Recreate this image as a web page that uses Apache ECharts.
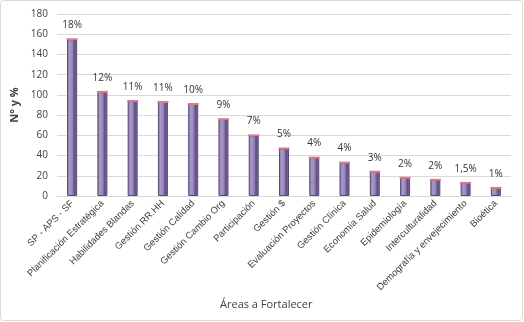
<!DOCTYPE html>
<html><head><meta charset="utf-8">
<script src="https://cdn.jsdelivr.net/npm/echarts@6/dist/echarts.min.js"></script>
<style>html,body{margin:0;padding:0;background:#fff}#c{width:524px;height:322px}</style>
</head><body><div id="c"></div>
<script>
const categories = ["SP - APS - SF","Planificación Estratégica","Habilidades Blandas","Gestión RR.HH","Gestión Calidad","Gestión Cambio Org","Participación","Gestión $","Evaluación Proyectos","Gestión Clínica","Economía Salud","Epidemiología","Interculturalidad","Demografía y envejecimiento","Bioética"];
const values = [155,103,94,93,91,76,60,47,38,33,24,18,16,13,8];
const percentLabels = ["18%","12%","11%","11%","10%","9%","7%","5%","4%","4%","3%","2%","2%","1,5%","1%"];
const yTicks = {min:0,max:180,interval:20};

const chart = echarts.init(document.getElementById('c'));
const font = "'Liberation Sans Narrow','Liberation Sans',sans-serif";
chart.setOption({
  animation:false,
  grid:{left:57,right:13,top:14,bottom:126},
  graphic:[
    {type:'rect',shape:{x:0.5,y:0.5,width:522,height:320,r:3},style:{fill:null,stroke:'#D9D9D9',lineWidth:1},z:-1},
    {type:'text',left:220,top:299,style:{text:'Áreas a Fortalecer',font:"11px 'Open Sans',sans-serif",fill:'#404040'}}
  ],
  xAxis:{type:'category',data:categories,
    axisLine:{lineStyle:{color:'#D9D9D9'}},axisTick:{show:false},
    axisLabel:{rotate:45,interval:0,fontSize:9.5,fontFamily:font,color:'#404040',margin:6}},
  yAxis:{type:'value',min:yTicks.min,max:yTicks.max,interval:yTicks.interval,
    name:'N° y %',nameLocation:'middle',nameGap:32,nameRotate:90,
    nameTextStyle:{fontSize:11,fontWeight:'bold',color:'#404040',fontFamily:"'Open Sans',sans-serif"},
    axisLine:{show:false},axisTick:{show:false},
    axisLabel:{fontSize:10,color:'#404040',fontFamily:"'Open Sans',sans-serif",margin:9},
    splitLine:{lineStyle:{color:'#D9D9D9',width:1}}},
  series:[{type:'bar',data:values,barWidth:10,
    itemStyle:{
      color:new echarts.graphic.LinearGradient(0,0,1,0,[
        {offset:0,color:'#7E6E9E'},{offset:0.25,color:'#A898CC'},{offset:0.5,color:'#9888BC'},{offset:0.75,color:'#5E4E7E'},{offset:1,color:'#8A7AAE'}]),
      borderColor:'#5A4A78',borderWidth:1},
    label:{show:true,position:'top',distance:9,fontSize:10,color:'#333333',fontFamily:"'Open Sans',sans-serif",
      formatter:p=>percentLabels[p.dataIndex]}
  },{
    type:'pictorialBar',data:values,symbol:'rect',symbolSize:[11,2],symbolPosition:'end',symbolOffset:[0,'-50%'],
    barGap:'-100%',silent:true,z:5,
    itemStyle:{color:'#E07A8A'}
  }]
});
</script></body></html>
